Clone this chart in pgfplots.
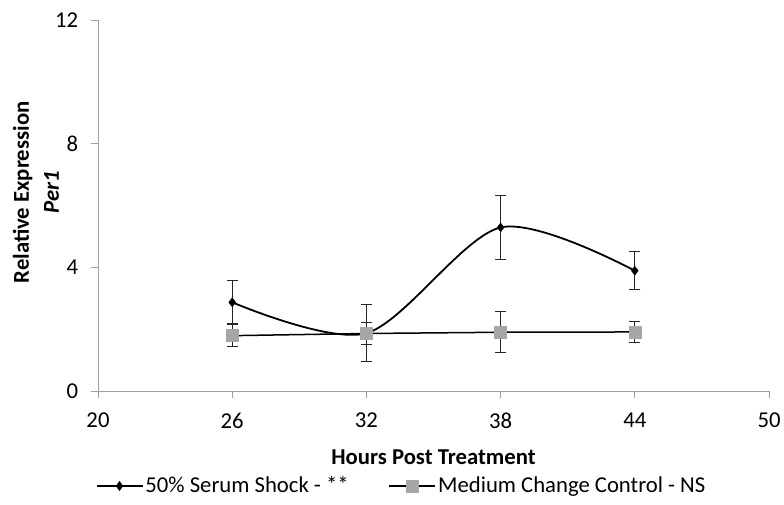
\documentclass[border=0pt]{standalone}
\usepackage{fontspec}
\setmainfont{Carlito}
\usepackage{pgfplots}
\pgfplotsset{compat=1.18}
\definecolor{axgray}{HTML}{A0A0A0}
\definecolor{sqgray}{HTML}{A6A6A6}
\definecolor{errc}{HTML}{262626}
\newcommand{\chartfont}{\fontsize{22.7}{27}\selectfont}
\begin{document}
\chartfont
\begin{tikzpicture}
\begin{axis}[
  name=ax,
  scale only axis, width=671pt, height=371pt,
  xmin=20, xmax=50, ymin=0, ymax=12,
  xtick={20,26,32,38,44,50}, ytick={0,4,8,12},
  axis x line*=bottom, axis y line*=left,
  axis line style={draw=axgray, line width=0.9pt, -},
  tick style={draw=axgray, line width=0.9pt},
  tick align=outside, major tick length=7pt,
  tick label style={font=\chartfont},
  xticklabel style={yshift=-7pt},
  yticklabel style={xshift=-5pt},
  /pgf/number format/assume math mode=true,
  every axis x label/.style={at={(axis description cs:0.5,0)}, yshift=-66pt, anchor=center, font=\chartfont\bfseries},
  every axis y label/.style={at={(axis description cs:0,0.5)}, xshift=-62pt, yshift=13pt, rotate=90, anchor=center, align=center, font=\fontsize{22.7}{30}\selectfont\bfseries},
  xlabel={Hours Post Treatment},
  ylabel={Relative Expression\\\textit{Per1}},
  legend style={at={(axis description cs:0.5,0)}, xshift=-32pt, yshift=-95pt, anchor=center, draw=none, fill=none, font=\chartfont, /tikz/every even column/.append style={column sep=38pt}},
  legend columns=2,
  legend cell align=left,
  legend image code/.code={\draw[mark repeat=2,mark phase=2,#1] plot coordinates {(0pt,0pt)(23pt,0pt)(46pt,0pt)};},
  clip=false,
]
\addplot[black, line width=1.8pt, smooth, tension=0.5,
  mark=diamond*, mark size=4.5pt, mark options={fill=black, draw=black, line width=0.5pt},
  error bars/.cd, y dir=both, y explicit,
  error bar style={errc, line width=1pt},
  error mark options={rotate=90, mark size=5.5pt, errc, line width=1pt}]
  coordinates {
  (26,2.87) +- (0,0.69)
  (32,1.87) +- (0,0.93)
  (38,5.29) +- (0,1.03)
  (44,3.89) +- (0,0.62)
  };
\addlegendentry{50\% Serum Shock - **}
\addplot[black, line width=1.5pt,
  mark=square*, mark size=6pt, mark options={fill=sqgray, draw=sqgray, line width=0.5pt},
  error bars/.cd, y dir=both, y explicit,
  error bar style={errc, line width=1pt},
  error mark options={rotate=90, mark size=5.5pt, errc, line width=1pt}]
  coordinates {
  (26,1.79) +- (0,0.36)
  (32,1.86) +- (0,0.36)
  (38,1.90) +- (0,0.66)
  (44,1.91) +- (0,0.35)
  };
\addlegendentry{Medium Change Control - NS}
\end{axis}
\pgfresetboundingbox
\path[use as bounding box] ([xshift=-98pt,yshift=-113pt]ax.south west) rectangle ([xshift=15pt,yshift=20pt]ax.north east);
\end{tikzpicture}
\end{document}
